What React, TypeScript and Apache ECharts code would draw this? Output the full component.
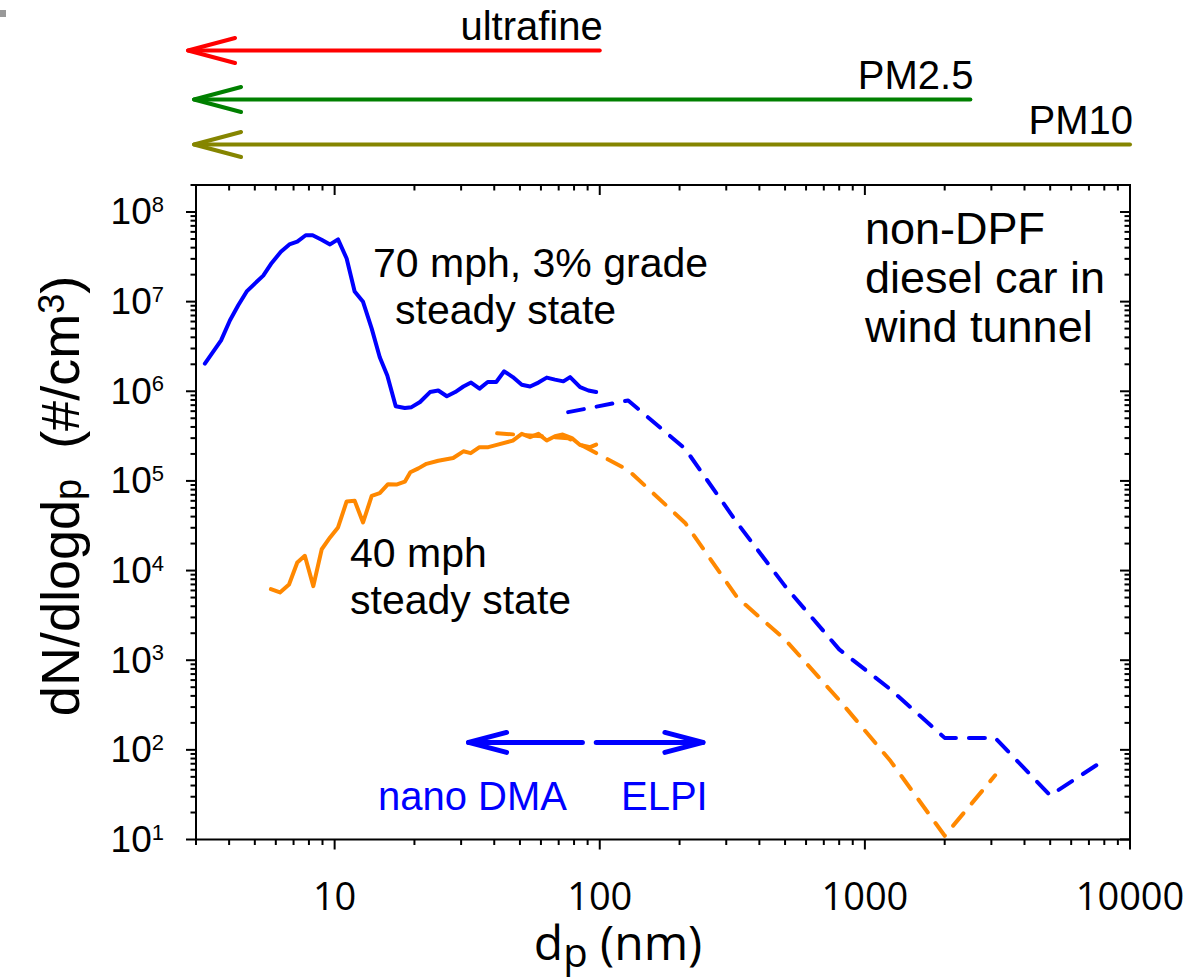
import React, { useEffect, useRef } from 'react';
import * as echarts from 'echarts';

// ---------------- data ----------------
// nano DMA, 70 mph, 3% grade (solid blue)
const dma70Dp = [3.24, 3.73, 4.03, 4.33, 4.66, 5.01, 5.38, 5.79, 6.27, 6.75, 7.23, 7.78, 8.26, 8.93, 9.61, 10.3, 11.1, 11.9, 12.8, 13.8, 14.8, 15.8, 17.0, 18.4, 19.5, 21.0, 22.9, 24.6, 26.5, 28.5, 30.6, 32.7, 35.2, 37.8, 40.7, 43.6, 47.0, 50.8, 54.6, 58.7, 63.1, 67.8, 72.9, 77.3, 84.3, 90.6, 96.9];
const dma70N = [2.03e6, 3.7e6, 6.2e6, 9.1e6, 1.3e7, 1.6e7, 1.95e7, 2.7e7, 3.6e7, 4.35e7, 4.67e7, 5.5e7, 5.5e7, 4.9e7, 4.35e7, 4.95e7, 3.03e7, 1.3e7, 9.95e6, 5.0e6, 2.4e6, 1.5e6, 6.8e5, 6.5e5, 6.65e5, 7.6e5, 9.8e5, 1.02e6, 8.8e5, 9.8e5, 1.13e6, 1.25e6, 1.07e6, 1.27e6, 1.27e6, 1.67e6, 1.44e6, 1.18e6, 1.13e6, 1.25e6, 1.42e6, 1.35e6, 1.29e6, 1.44e6, 1.11e6, 1.02e6, 9.8e5];
// nano DMA, 40 mph (solid orange)
const dma40Dp = [5.75, 6.22, 6.73, 7.23, 7.72, 8.31, 8.94, 9.61, 10.3, 11.1, 11.9, 12.8, 13.8, 14.8, 15.9, 17.1, 18.4, 19.3, 20.7, 22.2, 24.6, 28.0, 30.6, 32.6, 35.2, 38.0, 40.9, 47.0, 50.8, 54.6, 58.7, 63.1, 67.8, 72.5, 78.5, 84.3, 92.0, 96.9];
const dma40N = [6.2e3, 5.7e3, 7.0e3, 1.23e4, 1.46e4, 6.7e3, 1.73e4, 2.34e4, 3.03e4, 5.9e4, 6.0e4, 3.44e4, 6.8e4, 7.3e4, 9.2e4, 9.1e4, 9.8e4, 1.25e5, 1.38e5, 1.55e5, 1.68e5, 1.8e5, 2.14e5, 2.04e5, 2.38e5, 2.38e5, 2.52e5, 2.82e5, 3.35e5, 3.08e5, 3.35e5, 2.82e5, 3.15e5, 3.29e5, 3.0e5, 2.52e5, 2.38e5, 2.54e5];
// ELPI, 70 mph (dashed blue)
const elpi70Dp = [76, 128, 210, 330, 500, 800, 1250, 2000, 3100, 5000, 8000];
const elpi70N = [5.85e5, 7.9e5, 2.28e5, 3.4e4, 6.7e3, 1.32e3, 472, 136, 136, 31, 77];
// ELPI, 40 mph (dashed orange)
const elpi40Dp = [41, 76, 128, 210, 330, 500, 800, 1250, 2000, 3100];
const elpi40N = [3.4e5, 3.0e5, 1.32e5, 3.4e4, 5.0e3, 1.7e3, 360, 75, 11, 52];

// size classes shown above the plot (upper bound, arrow tip), nm
const sizeClassNames = ['ultrafine', 'PM2.5', 'PM10'];
const sizeClassUpperNm = [100, 2500, 10000];
const sizeClassTipNm = [2.8, 2.95, 2.95];

// instrument ranges (tail -> head), nm, and their level in #/cm3
const instrumentNames = ['nano DMA', 'ELPI'];
const instrumentTailNm = [86, 97];
const instrumentHeadNm = [32, 245];
const instrumentLevel = [121, 121];

// axis ranges and labelled ticks
const X_MIN = 3;
const X_MAX = 10000;
const Y_MIN = 10;
const Y_MAX = 2e8;
const xTickLabels = ['10', '100', '1000', '10000'];
const yTickExponents = ['1', '2', '3', '4', '5', '6', '7', '8'];

// ---------------- styles / layout ----------------
const ARIAL = '"Liberation Sans", Arial, Helvetica, sans-serif';
const OPEN = '"Open Sans", "Liberation Sans", sans-serif';
const BLUE = '#0000ff';
const ORANGE = '#ff8800';
const sizeClassColors = ['#ff0000', '#008000', '#858500'];
const sizeClassOffsets = [134.5, 85.5, 40.5];

function buildTicks(lo: number, hi: number) {
  const out: { v: number; major: boolean }[] = [];
  for (let e = -1; e <= 9; e++) {
    for (let m = 1; m <= 9; m++) {
      const v = m * Math.pow(10, e);
      if (v >= lo * 0.9999 && v <= hi * 1.0001) out.push({ v, major: m === 1 });
    }
  }
  return out;
}

function isPow10(v: number) {
  const e = Math.log10(v);
  return Math.abs(e - Math.round(e)) < 1e-6;
}

export default function App() {
  const ref = useRef<HTMLDivElement>(null);

  useEffect(() => {
    if (!ref.current) return;
    const chart = echarts.init(ref.current, undefined, { renderer: 'svg' });

    const xTicks = buildTicks(X_MIN, X_MAX);
    const yTicks = buildTicks(Y_MIN, Y_MAX);

    const lineSeries = (name: string, dp: number[], n: number[], color: string, dashed: boolean) => ({
      type: 'line',
      name,
      data: dp.map((d, i) => [d, n[i]]),
      showSymbol: false,
      symbol: 'none',
      silent: true,
      clip: false,
      z: 3,
      lineStyle: { color, width: 4, type: dashed ? [16, 13] : 'solid', cap: 'round', join: 'round' },
    });

    const option: any = {
      animation: false,
      backgroundColor: '#ffffff',
      grid: {
        left: 196,
        top: 185,
        width: 934,
        height: 654.5,
        containLabel: false,
        outerBoundsMode: 'none',
        show: true,
        borderColor: '#000',
        borderWidth: 2,
        backgroundColor: 'transparent',
      },
      xAxis: {
        type: 'log',
        logBase: 10,
        min: X_MIN,
        max: X_MAX,
        axisLine: { show: false },
        axisTick: { show: false },
        splitLine: { show: false },
        minorTick: { show: false },
        axisLabel: {
          color: '#000',
          fontFamily: OPEN,
          fontSize: 38,
          lineHeight: 34,
          margin: 38,
          formatter: (v: number) => {
            if (!isPow10(v)) return '';
            const s = String(Math.round(v));
            return xTickLabels.indexOf(s) >= 0 ? s : '';
          },
        },
      },
      yAxis: {
        type: 'log',
        logBase: 10,
        min: Y_MIN,
        max: Y_MAX,
        axisLine: { show: false },
        axisTick: { show: false },
        splitLine: { show: false },
        axisLabel: {
          color: '#000',
          margin: 32,
          formatter: (v: number) => {
            if (!isPow10(v)) return '';
            const e = String(Math.round(Math.log10(v)));
            return yTickExponents.indexOf(e) >= 0 ? `{b|10}{s|${e}}` : '';
          },
          rich: {
            b: { fontFamily: ARIAL, fontSize: 37, color: '#000' },
            s: { fontFamily: ARIAL, fontSize: 22, color: '#000', verticalAlign: 'top' },
          },
        },
      },
      series: [
        lineSeries('ELPI 40 mph', elpi40Dp, elpi40N, ORANGE, true),
        lineSeries('ELPI 70 mph', elpi70Dp, elpi70N, BLUE, true),
        lineSeries('nano DMA 40 mph', dma40Dp, dma40N, ORANGE, false),
        lineSeries('nano DMA 70 mph', dma70Dp, dma70N, BLUE, false),
        // x ticks (bottom outward, top inward)
        {
          type: 'custom',
          coordinateSystem: 'cartesian2d',
          clip: false,
          silent: true,
          z: 6,
          encode: { x: 0, y: 1 },
          data: xTicks.map((t) => [t.v, Y_MIN, t.major ? 1 : 0]),
          renderItem: (_p: any, api: any) => {
            const v = api.value(0);
            const len = api.value(2) === 1 ? 10 : 5.5;
            const b = api.coord([v, Y_MIN]);
            const t = api.coord([v, Y_MAX]);
            const st = { stroke: '#000', lineWidth: 2 };
            return {
              type: 'group',
              children: [
                { type: 'line', shape: { x1: b[0], y1: b[1], x2: b[0], y2: b[1] + len }, style: st },
                { type: 'line', shape: { x1: t[0], y1: t[1], x2: t[0], y2: t[1] + len }, style: st },
              ],
            };
          },
        },
        // y ticks (left outward, right inward)
        {
          type: 'custom',
          coordinateSystem: 'cartesian2d',
          clip: false,
          silent: true,
          z: 6,
          encode: { x: 0, y: 1 },
          data: yTicks.map((t) => [X_MIN, t.v, t.major ? 1 : 0]),
          renderItem: (_p: any, api: any) => {
            const v = api.value(1);
            const len = api.value(2) === 1 ? 10 : 5.5;
            const l = api.coord([X_MIN, v]);
            const r = api.coord([X_MAX, v]);
            const st = { stroke: '#000', lineWidth: 2 };
            return {
              type: 'group',
              children: [
                { type: 'line', shape: { x1: l[0] - len, y1: l[1], x2: l[0], y2: l[1] }, style: st },
                { type: 'line', shape: { x1: r[0] - len, y1: r[1], x2: r[0], y2: r[1] }, style: st },
              ],
            };
          },
        },
        // size-class arrows above the plot
        {
          type: 'custom',
          coordinateSystem: 'cartesian2d',
          clip: false,
          silent: true,
          z: 6,
          encode: { x: 0, y: 1 },
          data: sizeClassNames.map((_n, i) => [sizeClassTipNm[i], Y_MAX, sizeClassUpperNm[i], i]),
          renderItem: (_p: any, api: any) => {
            const i = api.value(3);
            const tip = api.coord([api.value(0), Y_MAX]);
            const end = api.coord([api.value(2), Y_MAX]);
            const y = tip[1] - sizeClassOffsets[i];
            const color = sizeClassColors[i];
            const st = { stroke: color, lineWidth: 4, lineCap: 'round', lineJoin: 'round', fill: 'none' };
            return {
              type: 'group',
              children: [
                { type: 'line', shape: { x1: tip[0], y1: y, x2: end[0], y2: y }, style: st },
                {
                  type: 'polyline',
                  shape: { points: [[tip[0] + 47, y - 12.5], [tip[0], y], [tip[0] + 47, y + 12.5]] },
                  style: st,
                },
                {
                  type: 'text',
                  x: end[0] + 3,
                  y: y - 25,
                  style: {
                    text: sizeClassNames[i],
                    fill: '#000',
                    fontFamily: ARIAL,
                    fontSize: 40,
                    align: 'right',
                    verticalAlign: 'middle',
                  },
                },
              ],
            };
          },
        },
        // instrument range arrows
        {
          type: 'custom',
          coordinateSystem: 'cartesian2d',
          clip: false,
          silent: true,
          z: 6,
          encode: { x: 0, y: 1 },
          data: instrumentNames.map((_n, i) => [instrumentTailNm[i], instrumentLevel[i], instrumentHeadNm[i]]),
          renderItem: (_p: any, api: any) => {
            const tail = api.coord([api.value(0), api.value(1)]);
            const head = api.coord([api.value(2), api.value(1)]);
            const dir = head[0] < tail[0] ? 1 : -1;
            const st = { stroke: BLUE, lineWidth: 5, lineCap: 'round', lineJoin: 'round', fill: 'none' };
            return {
              type: 'group',
              children: [
                { type: 'line', shape: { x1: tail[0], y1: tail[1], x2: head[0], y2: head[1] }, style: st },
                {
                  type: 'polyline',
                  shape: { points: [[head[0] + dir * 38, head[1] - 10], [head[0], head[1]], [head[0] + dir * 38, head[1] + 10]] },
                  style: st,
                },
              ],
            };
          },
        },
      ],
      graphic: [
        { type: 'rect', shape: { x: 0, y: 10, width: 6, height: 7 }, style: { fill: '#999999' } },
        {
          type: 'text', x: 373, y: 263,
          style: { text: '70 mph, 3% grade', fontFamily: ARIAL, fontSize: 41, fill: '#000', align: 'left', verticalAlign: 'middle' },
        },
        {
          type: 'text', x: 395, y: 310,
          style: { text: 'steady state', fontFamily: ARIAL, fontSize: 41, fill: '#000', align: 'left', verticalAlign: 'middle' },
        },
        {
          type: 'text', x: 350, y: 553,
          style: { text: '40 mph', fontFamily: ARIAL, fontSize: 41, fill: '#000', align: 'left', verticalAlign: 'middle' },
        },
        {
          type: 'text', x: 350, y: 600,
          style: { text: 'steady state', fontFamily: ARIAL, fontSize: 41, fill: '#000', align: 'left', verticalAlign: 'middle' },
        },
        {
          type: 'text', x: 865, y: 228,
          style: { text: 'non-DPF', fontFamily: ARIAL, fontSize: 45, fill: '#000', align: 'left', verticalAlign: 'middle' },
        },
        {
          type: 'text', x: 865, y: 277,
          style: { text: 'diesel car in', fontFamily: ARIAL, fontSize: 45, fill: '#000', align: 'left', verticalAlign: 'middle' },
        },
        {
          type: 'text', x: 865, y: 326,
          style: { text: 'wind tunnel', fontFamily: ARIAL, fontSize: 45, fill: '#000', align: 'left', verticalAlign: 'middle' },
        },
        {
          type: 'text', x: 378, y: 796,
          style: { text: instrumentNames[0], fontFamily: ARIAL, fontSize: 40, fill: BLUE, align: 'left', verticalAlign: 'middle' },
        },
        {
          type: 'text', x: 621, y: 796,
          style: { text: instrumentNames[1], fontFamily: ARIAL, fontSize: 40, fill: BLUE, align: 'left', verticalAlign: 'middle' },
        },
        {
          type: 'text', x: 618, y: 941,
          style: {
            text: '{m|d}{s|p}{m| (nm)}',
            align: 'center',
            verticalAlign: 'middle',
            rich: {
              m: { fontFamily: OPEN, fontSize: 48, lineHeight: 44, fill: '#000', verticalAlign: 'middle' },
              s: { fontFamily: OPEN, fontSize: 40, lineHeight: 30, fill: '#000', verticalAlign: 'top', padding: [12, 0, 0, 0] },
            },
          },
        },
        {
          type: 'text', x: 60, y: 496, rotation: Math.PI / 2,
          style: {
            text: '{m|dN/dlogd}{s|p}{m|  (#/cm}{u|3}{m|)}',
            align: 'center',
            verticalAlign: 'middle',
            rich: {
              m: { fontFamily: ARIAL, fontSize: 54, fill: '#000' },
              s: { fontFamily: ARIAL, fontSize: 38, fill: '#000', verticalAlign: 'bottom', padding: [14, 0, 0, 0] },
              u: { fontFamily: ARIAL, fontSize: 36, fill: '#000', verticalAlign: 'top' },
            },
          },
        },
      ],
    };

    chart.setOption(option);
    return () => chart.dispose();
  }, []);

  return (
    <div
      ref={ref}
      style={{ position: 'absolute', left: 0, top: 0, width: 1196, height: 977, overflow: 'hidden', background: '#fff' }}
    />
  );
}
